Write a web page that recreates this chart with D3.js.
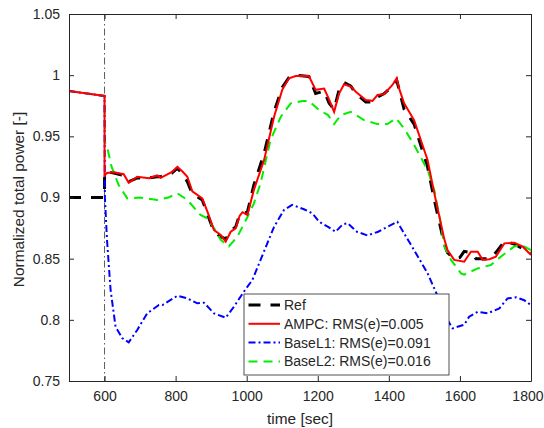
<!DOCTYPE html>
<html lang="en">
<head>
<meta charset="utf-8">
<title>Normalized total power</title>
<script src="https://cdn.jsdelivr.net/npm/d3@7"></script>
<style>
body { margin: 0; background: #fff; }
text { font-family: "Liberation Sans", Arial, sans-serif; fill: #262626; }
</style>
</head>
<body>
<div id="chart"></div>
<script>
// data: [time, normalized power]
var refData = [[500,0.9],[600,0.9],[600,0.92],[607,0.921],[626,0.920],[654,0.918],[668,0.913],[692,0.916],[725,0.916],[748,0.917],[758,0.917],[790,0.920],[805,0.924],[820,0.919],[833,0.913],[847,0.903],[875,0.898],[890,0.886],[908,0.872],[927,0.868],[941,0.866],[955,0.873],[969,0.876],[980,0.886],[988,0.887],[1002,0.888],[1020,0.91],[1049,0.936],[1077,0.97],[1100,0.99],[1119,0.998],[1138,1.0],[1175,0.999],[1194,0.985],[1218,0.987],[1232,0.977],[1246,0.972],[1260,0.988],[1274,0.994],[1293,0.991],[1307,0.985],[1335,0.978],[1354,0.978],[1368,0.982],[1387,0.985],[1410,0.991],[1422,0.996],[1429,0.988],[1443,0.972],[1471,0.960],[1509,0.925],[1528,0.898],[1556,0.862],[1565,0.855],[1584,0.850],[1600,0.851],[1612,0.856],[1631,0.855],[1645,0.850],[1664,0.850],[1683,0.850],[1701,0.855],[1725,0.864],[1753,0.862],[1777,0.858],[1800,0.855]];

var ampcData = [[500,0.987],[600,0.983],[600,0.918],[607,0.920],[626,0.9206],[654,0.919],[668,0.912],[692,0.917],[725,0.9157],[748,0.918],[758,0.916],[790,0.921],[805,0.925],[820,0.921],[833,0.917],[847,0.905],[875,0.8993],[890,0.888],[908,0.8734],[927,0.8693],[941,0.8639],[955,0.872],[969,0.8748],[980,0.885],[988,0.888],[1002,0.8857],[1020,0.906],[1049,0.9307],[1077,0.966],[1100,0.988],[1119,0.9974],[1138,0.9993],[1175,0.9993],[1194,0.988],[1218,0.989],[1232,0.98],[1246,0.970],[1260,0.985],[1274,0.9926],[1293,0.9906],[1307,0.9865],[1335,0.9797],[1354,0.979],[1368,0.9838],[1387,0.9846],[1410,0.992],[1422,0.9974],[1429,0.989],[1443,0.977],[1471,0.9633],[1509,0.9307],[1528,0.9034],[1556,0.866],[1565,0.857],[1584,0.849],[1612,0.8475],[1631,0.8557],[1650,0.8557],[1664,0.849],[1683,0.8495],[1701,0.8516],[1725,0.8625],[1753,0.863],[1777,0.8598],[1800,0.853]];

var baseL1Data = [[500,0.987],[600,0.983],[601,0.90],[607,0.865],[617,0.8244],[631,0.7944],[650,0.785],[668,0.7816],[692,0.7917],[720,0.8053],[753,0.8121],[763,0.8121],[805,0.8197],[833,0.8175],[861,0.8135],[880,0.814],[908,0.8053],[941,0.8017],[964,0.8107],[992,0.823],[1016,0.8326],[1039,0.849],[1077,0.876],[1105,0.8898],[1128,0.894],[1161,0.8904],[1185,0.887],[1204,0.8802],[1229,0.876],[1250,0.872],[1270,0.878],[1284,0.879],[1310,0.872],[1340,0.869],[1370,0.872],[1396,0.876],[1424,0.8802],[1434,0.875],[1471,0.857],[1509,0.838],[1532,0.823],[1555,0.805],[1579,0.793],[1612,0.796],[1626,0.8026],[1650,0.8066],[1678,0.8053],[1711,0.8094],[1734,0.8175],[1758,0.8184],[1781,0.816],[1800,0.812]];

var baseL2Data = [[500,0.987],[600,0.983],[601,0.945],[607,0.9415],[620,0.925],[640,0.91],[664,0.8993],[700,0.900],[748,0.898],[780,0.900],[805,0.9034],[833,0.898],[870,0.8857],[889,0.883],[910,0.874],[927,0.8653],[950,0.860],[974,0.868],[1002,0.884],[1020,0.895],[1039,0.9116],[1067,0.947],[1096,0.966],[1124,0.977],[1157,0.9789],[1175,0.9789],[1204,0.9715],[1229,0.9674],[1246,0.960],[1265,0.9674],[1293,0.970],[1330,0.9633],[1368,0.960],[1396,0.960],[1420,0.9647],[1443,0.9565],[1471,0.943],[1509,0.9225],[1528,0.906],[1546,0.879],[1556,0.860],[1575,0.849],[1603,0.838],[1612,0.837],[1650,0.842],[1687,0.8448],[1715,0.8516],[1753,0.860],[1772,0.8612],[1800,0.857]];

var xTicks = [600, 800, 1000, 1200, 1400, 1600, 1800];
var yTicks = [0.75, 0.8, 0.85, 0.9, 0.95, 1, 1.05];
var yTickLabels = ["0.75", "0.8", "0.85", "0.9", "0.95", "1", "1.05"];
var switchTime = 600;

var series = [
  {name: "Ref", data: refData, color: "#000", width: 3, dash: "12,10"},
  {name: "AMPC: RMS(e)=0.005", data: ampcData, color: "#ff0000", width: 2, dash: null},
  {name: "BaseL1: RMS(e)=0.091", data: baseL1Data, color: "#0000ff", width: 2, dash: "7,3,2,3"},
  {name: "BaseL2: RMS(e)=0.016", data: baseL2Data, color: "#00ee00", width: 2, dash: "9,6"}
];

var W = 544, H = 428;
var margin = {top: 14, right: 13, bottom: 47, left: 69},
    width = 531 - margin.left,
    height = 381 - margin.top;
var tickFont = "14px", labelFont = "15.4px";

var svg = d3.select("#chart").append("svg")
  .attr("width", W).attr("height", H);
var g = svg.append("g")
  .attr("transform", "translate(" + margin.left + "," + margin.top + ")");

var x = d3.scaleLinear().domain([500, 1800]).range([0, width]);
var y = d3.scaleLinear().domain([0.75, 1.05]).range([height, 0]);

g.append("clipPath").attr("id", "clip")
  .append("rect").attr("width", width).attr("height", height);

// switch-on marker
g.append("line")
  .attr("x1", x(switchTime)).attr("x2", x(switchTime))
  .attr("y1", 0).attr("y2", height)
  .attr("stroke", "#333").attr("stroke-width", 0.8)
  .attr("stroke-dasharray", "7,3,1.5,3");

var line = d3.line()
  .x(function(d) { return x(d[0]); })
  .y(function(d) { return y(d[1]); });

var plot = g.append("g").attr("clip-path", "url(#clip)");
// draw order: Ref first then others on top
[0, 3, 2, 1].forEach(function(i) {
  var s = series[i];
  plot.append("path")
    .datum(s.data)
    .attr("d", line)
    .attr("fill", "none")
    .attr("stroke", s.color)
    .attr("stroke-width", s.width)
    .attr("stroke-dasharray", s.dash);
});

// axes (box style, inward ticks)
var axisColor = "#262626";
function styleAxis(sel) {
  sel.select(".domain").attr("stroke", axisColor);
  sel.selectAll(".tick line").attr("stroke", axisColor);
  sel.selectAll(".tick text").attr("fill", axisColor)
    .style("font-family", "'Liberation Sans', Arial, sans-serif")
    .style("font-size", tickFont);
}

var xAxisG = g.append("g").attr("transform", "translate(0," + height + ")")
  .call(d3.axisBottom(x).tickValues(xTicks).tickSizeInner(-5).tickSizeOuter(0).tickPadding(10.5).tickFormat(d3.format("d")))
  .call(styleAxis);
// last label kept inside the figure, like matlab does
xAxisG.selectAll(".tick text").filter(function(d) { return d === 1800; })
  .attr("text-anchor", "end").attr("dx", W - margin.left - width - 1);
g.append("g")
  .call(d3.axisLeft(y).tickValues(yTicks).tickSizeInner(-5).tickSizeOuter(0).tickPadding(9)
    .tickFormat(function(d, i) { return yTickLabels[i]; }))
  .call(styleAxis);
g.append("g")
  .call(d3.axisTop(x).tickValues(xTicks).tickSizeInner(-5).tickSizeOuter(0).tickFormat(""))
  .call(styleAxis);
g.append("g").attr("transform", "translate(" + width + ",0)")
  .call(d3.axisRight(y).tickValues(yTicks).tickSizeInner(-5).tickSizeOuter(0).tickFormat(""))
  .call(styleAxis);

g.selectAll(".domain").attr("stroke-width", 1);

// axis labels
svg.append("text")
  .attr("x", margin.left + width / 2).attr("y", 424)
  .attr("text-anchor", "middle").style("font-size", labelFont)
  .text("time [sec]");
svg.append("text")
  .attr("transform", "translate(24," + (margin.top + height / 2 + 2) + ") rotate(-90)")
  .attr("text-anchor", "middle").style("font-size", labelFont)
  .text("Normalized total power [-]");

// legend
var lg = svg.append("g").attr("transform", "translate(244,294)");
lg.append("rect").attr("width", 205).attr("height", 81)
  .attr("fill", "#fff").attr("stroke", axisColor).attr("stroke-width", 0.8);
series.forEach(function(s, i) {
  var yy = 11 + i * 18.8;
  lg.append("line")
    .attr("x1", 4.5).attr("x2", 36).attr("y1", yy).attr("y2", yy)
    .attr("stroke", s.color).attr("stroke-width", s.width)
    .attr("stroke-dasharray", s.dash);
  lg.append("text")
    .attr("x", 40).attr("y", yy + 5)
    .style("font-size", tickFont)
    .text(s.name);
});
</script>
</body>
</html>
